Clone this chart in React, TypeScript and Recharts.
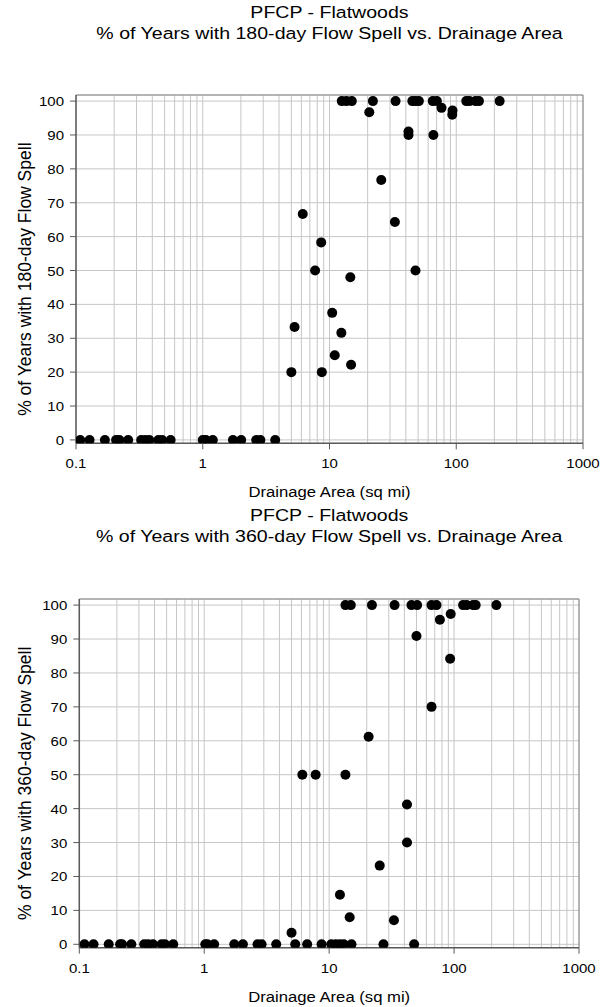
import { ScatterChart, Scatter, XAxis, YAxis, CartesianGrid, ReferenceLine } from 'recharts';

const FONT = '"Liberation Sans", Arial, Helvetica, sans-serif';

// 180-day flow spell: drainage area (sq mi) and % of years
const area180 = [
  0.108, 0.128, 0.169, 0.207, 0.22, 0.258, 0.327, 0.353, 0.379, 0.447, 0.478, 0.558,
  1.0, 1.06, 1.2, 1.73, 2.01, 2.64, 2.85, 3.73,
  5.0, 5.3, 6.15, 7.7, 8.6, 8.7, 10.5, 11.0, 12.4, 14.6, 14.8,
  20.6, 25.6, 32.8, 42, 42, 47.7, 66, 76.5, 93.5, 93,
  12.5, 13.6, 15.0, 22, 33.2, 45, 47.7, 50.7, 65.3, 70.3, 120, 127, 142, 151, 220,
];
const pct180 = [
  0, 0, 0, 0, 0, 0, 0, 0, 0, 0, 0, 0,
  0, 0, 0, 0, 0, 0, 0, 0,
  20, 33.3, 66.7, 50, 58.3, 20, 37.5, 25, 31.6, 48, 22.2,
  96.7, 76.7, 64.3, 91, 90, 50, 90, 98, 97.2, 96,
  100, 100, 100, 100, 100, 100, 100, 100, 100, 100, 100, 100, 100, 100, 100,
];

// 360-day flow spell
const area360 = [
  0.11, 0.13, 0.172, 0.212, 0.22, 0.261, 0.331, 0.356, 0.389, 0.456, 0.485, 0.565,
  1.02, 1.06, 1.2, 1.74, 2.04, 2.67, 2.88, 3.77,
  5.35, 6.67, 8.7, 10.4, 11.3, 12.2, 13.1, 15.1, 27.2, 47.9,
  5.0, 6.1, 7.8, 12.2, 13.5, 14.6, 20.7, 25.4, 33, 42, 42, 50, 66, 77, 93, 94,
  13.5, 14.9, 22, 33.4, 45.6, 50.6, 66, 72.3, 118, 126, 142, 149, 218,
];
const pct360 = [
  0, 0, 0, 0, 0, 0, 0, 0, 0, 0, 0, 0,
  0, 0, 0, 0, 0, 0, 0, 0,
  0, 0, 0, 0, 0, 0, 0, 0, 0, 0,
  3.4, 50, 50, 14.6, 50, 8, 61.2, 23.2, 7.1, 41.2, 30, 90.9, 70, 95.7, 84.2, 97.4,
  100, 100, 100, 100, 100, 100, 100, 100, 100, 100, 100, 100, 100,
];

const decades = [0.1, 1, 10, 100];
const xLabels = [0.1, 1, 10, 100, 1000];
const minorSteps = [1, 2, 3, 4, 5, 6, 7, 8, 9];
const yTicks = [0, 10, 20, 30, 40, 50, 60, 70, 80, 90, 100];
const yDomain = [-1, 101.8];

// log grid: 1..9 in every decade, plus the last decade line
const xGridTicks = [...decades.flatMap((d) => minorSteps.map((m) => d * m)), 1000];

const toPoints = (areas: number[], pcts: number[]) =>
  areas.map((area, i) => ({ area, pct: pcts[i] }));

const AXIS = '#5a5a5a';
const BORDER = '#868686';
const GRID = '#c6c6c6';

const XTick = ({ x, y, payload }: any) => {
  if (!xLabels.includes(payload.value)) return <g />;
  return (
    <g>
      <line x1={x} x2={x} y1={y} y2={y + 6} stroke={AXIS} />
      <text
        transform={`translate(${x},${y + 25}) scale(1.2,1)`}
        textAnchor="middle"
        fontSize={12.5}
        fontFamily={FONT}
        fill="#000"
      >
        {payload.value}
      </text>
    </g>
  );
};

const YTick = ({ x, y, payload }: any) => (
  <g>
    <line x1={x - 6} x2={x} y1={y} y2={y} stroke={AXIS} />
    <text
      transform={`translate(${x - 12},${y + 5}) scale(1.2,1)`}
      textAnchor="end"
      fontSize={12.5}
      fontFamily={FONT}
      fill="#000"
    >
      {payload.value}
    </text>
  </g>
);

const Dot = (props: any) => <circle cx={props.cx} cy={props.cy} r={5} fill="#000" />;

interface PanelProps {
  top: number;
  height: number;
  plotLeft: number;
  plotRight: number;
  plotTop: number;
  plotBottom: number;
  days: number;
  data: { area: number; pct: number }[];
}

function SpellPanel({ top, height, plotLeft, plotRight, plotTop, plotBottom, days, data }: PanelProps) {
  const Y_AXIS_W = 60;
  const X_AXIS_H = 30;
  const midX = (plotLeft + plotRight) / 2;
  const midY = (plotTop + plotBottom) / 2;

  return (
    <div style={{ position: 'absolute', left: 0, top, width: 600, height }}>
      <ScatterChart
        width={600}
        height={height}
        margin={{
          top: plotTop,
          right: 600 - plotRight,
          left: plotLeft - Y_AXIS_W,
          bottom: height - plotBottom - X_AXIS_H,
        }}
      >
        <CartesianGrid stroke={GRID} />
        <XAxis
          type="number"
          dataKey="area"
          scale="log"
          domain={[0.1, 1000]}
          ticks={xGridTicks}
          interval={0}
          allowDataOverflow
          height={X_AXIS_H}
          tickSize={0}
          tickMargin={0}
          tickLine={false}
          tick={<XTick />}
          axisLine={{ stroke: AXIS, strokeWidth: 1.5 }}
        />
        <YAxis
          type="number"
          dataKey="pct"
          domain={yDomain}
          ticks={yTicks}
          interval={0}
          allowDataOverflow
          width={Y_AXIS_W}
          tickSize={0}
          tickMargin={0}
          tickLine={false}
          tick={<YTick />}
          axisLine={{ stroke: AXIS, strokeWidth: 1.5 }}
        />
        <ReferenceLine y={yDomain[1]} stroke={BORDER} ifOverflow="visible" />
        <ReferenceLine x={1000} stroke={BORDER} ifOverflow="visible" />
        <Scatter data={data} shape={Dot} isAnimationActive={false} />
      </ScatterChart>
      <svg
        width={600}
        height={height}
        style={{ position: 'absolute', left: 0, top: 0, pointerEvents: 'none' }}
        fontFamily={FONT}
      >
        <text transform={`translate(${midX},18) scale(1.2,1)`} textAnchor="middle" fontSize={16.3}>
          PFCP - Flatwoods
        </text>
        <text transform={`translate(${midX},39.3) scale(1.2,1)`} textAnchor="middle" fontSize={16.3}>
          % of Years with {days}-day Flow Spell vs. Drainage Area
        </text>
        <text
          transform={`translate(${midX},${plotBottom + 54}) scale(1.15,1)`}
          textAnchor="middle"
          fontSize={14.5}
        >
          Drainage Area (sq mi)
        </text>
        <text transform={`translate(31,${midY + 10}) rotate(-90)`} textAnchor="middle" fontSize={17.5}>
          % of Years with {days}-day Flow Spell
        </text>
      </svg>
    </div>
  );
}

export default function App() {
  return (
    <div style={{ position: 'absolute', left: 0, top: 0, width: 600, height: 1007, background: '#fff' }}>
      <SpellPanel
        top={0}
        height={503}
        plotLeft={76}
        plotRight={583}
        plotTop={95}
        plotBottom={443.3}
        days={180}
        data={toPoints(area180, pct180)}
      />
      <SpellPanel
        top={503}
        height={504}
        plotLeft={79.3}
        plotRight={579}
        plotTop={96}
        plotBottom={444.7}
        days={360}
        data={toPoints(area360, pct360)}
      />
    </div>
  );
}
